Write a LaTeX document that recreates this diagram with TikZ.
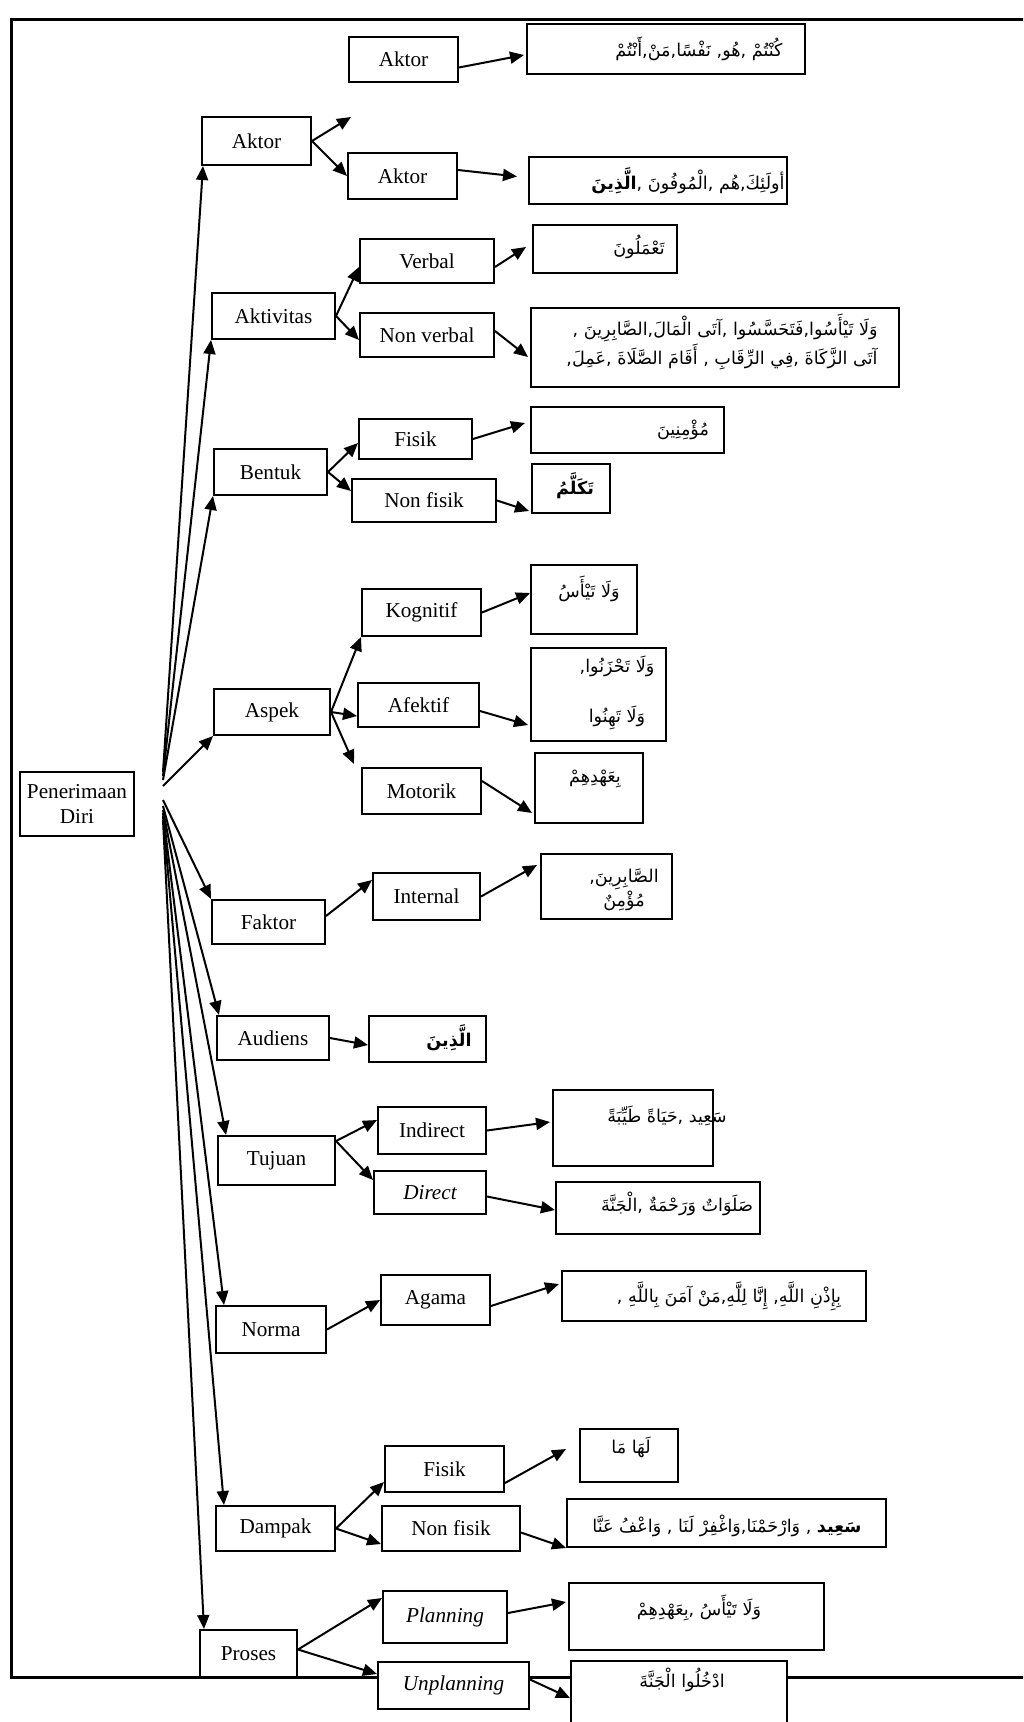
\documentclass[tikz,border=0pt]{standalone}
\usepackage{fontspec}
\setmainfont{Liberation Serif}
\newfontfamily\arabicfont[Script=Arabic]{DejaVu Sans}
\TeXXeTstate=1
\usetikzlibrary{arrows.meta}
\newcommand{\arab}[1]{{\arabicfont\beginR #1\endR}}
\tikzset{box/.style 2 args={
    draw, line width=1pt, fill=white, inner sep=0pt,
    minimum width=#1pt, minimum height=#2pt,
    font=\fontsize{10.6}{12.7}\selectfont
  },
  teks/.style={inner sep=0pt, font=\arabicfont\fontsize{8.8}{13}\selectfont},
  panah/.style={line width=1pt, -{Triangle[length=7pt,width=6pt]}}
}

\begin{document}
\begin{tikzpicture}[x=0.5pt,y=-0.5pt]
  \clip (0,0) rectangle (1023,1722);
  \draw[line width=1.5pt] (1030,20) -- (11,20) -- (11,1677) -- (1030,1677);

  \node[box={57}{32}, align=center] (root) at (77,804) {Penerimaan\\Diri};

  % tingkat pertama
  \node[box={54.5}{24}] (aktor) at (256.5,141) {Aktor};
  \node[box={61.5}{23}] (aktivitas) at (273.5,316) {Aktivitas};
  \node[box={56.5}{23}] (bentuk) at (270.5,472) {Bentuk};
  \node[box={58}{23}] (aspek) at (272,712) {Aspek};
  \node[box={56.5}{22}] (faktor) at (268.5,922) {Faktor};
  \node[box={56}{22}] (audiens) at (273,1038) {Audiens};
  \node[box={58.5}{24.5}] (tujuan) at (276.5,1160.5) {Tujuan};
  \node[box={55}{23.5}] (norma) at (271,1329.5) {Norma};
  \node[box={59.5}{22.5}] (dampak) at (275.5,1528.5) {Dampak};
  \node[box={48.5}{23.5}] (proses) at (248.5,1653.5) {Proses};

  % tingkat kedua
  \node[box={54.5}{22.5}] (aktorA) at (403.5,59.5) {Aktor};
  \node[box={54.5}{23}] (aktorB) at (402.5,176) {Aktor};
  \node[box={67}{22}] (verbal) at (427,261) {Verbal};
  \node[box={67}{22}] (nonverbal) at (427,335) {Non verbal};
  \node[box={56.5}{20}] (fisikB) at (415.5,439) {Fisik};
  \node[box={72}{21.5}] (nonfisikB) at (424,500.5) {Non fisik};
  \node[box={59.5}{23.5}] (kognitif) at (421.5,612.5) {Kognitif};
  \node[box={60.5}{22}] (afektif) at (418.5,705) {Afektif};
  \node[box={59.5}{23}] (motorik) at (421.5,791) {Motorik};
  \node[box={53.5}{23.5}] (internal) at (426.5,896.5) {Internal};
  \node[box={54}{23.5}] (indirect) at (432,1130.5) {Indirect};
  \node[box={56}{21.5}] (direct) at (430,1192.5) {\itshape Direct};
  \node[box={54.5}{25}] (agama) at (435.5,1300) {Agama};
  \node[box={59.5}{23}] (fisikD) at (444.5,1469) {Fisik};
  \node[box={69}{22.5}] (nonfisikD) at (451,1528.5) {Non fisik};
  \node[box={62}{26}] (planning) at (445,1617) {\itshape Planning};
  \node[box={75.5}{23.5}] (unplanning) at (453.5,1685.5) {\itshape Unplanning};

  % kotak ayat
  \node[box={139}{25}] (kA) at (666,49) {};
  \node[box={129}{23.5}] (kB) at (658,180.5) {};
  \node[box={72}{24}] (kVerbal) at (605,249) {};
  \node[box={184}{39.5}] (kNonverbal) at (715,347.5) {};
  \node[box={96.5}{23}] (kFisikB) at (627.5,430) {};
  \node[box={39}{24.5}] (kNonfisikB) at (571,488.5) {};
  \node[box={53}{34.5}] (kKognitif) at (584,599.5) {};
  \node[box={67.5}{46.5}] (kAfektif) at (598.5,694.5) {};
  \node[box={54}{35}] (kMotorik) at (589,788) {};
  \node[box={65.5}{32.5}] (kInternal) at (606.5,886.5) {};
  \node[box={58.5}{23}] (kAudiens) at (427.5,1039) {};
  \node[box={80}{38}] (kIndirect) at (633,1128) {};
  \node[box={102}{26}] (kDirect) at (658,1208) {};
  \node[box={152}{25}] (kAgama) at (714,1296) {};
  \node[box={49}{26.5}] (kFisikD) at (629,1455.5) {};
  \node[box={159.5}{24}] (kNonfisikD) at (726.5,1523) {};
  \node[box={127.5}{33.5}] (kPlanning) at (696.5,1616.5) {};
  \node[box={108}{37}] (kUnplanning) at (679,1698) {};

  \node[teks] (tA) at (699,49) {\arab{كُنْتُمْ ,هُو, نَفْسًا,مَنْ,أَنْتُمْ}};
  \node[teks] (tB) at (688,181) {\arab{أولَئِكَ,هُم ,الْمُوفُونَ ,{\bfseries الَّذِينَ}}};
  \node[teks] (tVerbal) at (639,247) {\arab{تَعْمَلُونَ}};
  \node[teks, align=right, anchor=east] (tNonverbal) at (878,342)
    {\arab{وَلَا تَيْأَسُوا,فَتَحَسَّسُوا ,آتَى الْمَالَ,الصَّابِرِينَ ,}\\
     \arab{آتَى الزَّكَاةَ ,فِي الرِّقَابِ , أَقَامَ الصَّلَاةَ ,عَمِلَ,}};
  \node[teks] (tFisikB) at (683,430) {\arab{مُؤْمِنِينَ}};
  \node[teks, font=\arabicfont\bfseries\fontsize{8.8}{13}\selectfont] (tNonfisikB) at (575,486) {\arab{تَكَلَّمُ}};
  \node[teks] (tKognitif) at (589,589) {\arab{وَلَا تَيْأَسُ}};
  \node[teks, align=center] (tAfektif) at (617,693)
    {\arab{وَلَا تَحْزَنُوا,}\\[12pt]\arab{وَلَا تَهِنُوا}};
  \node[teks] (tMotorik) at (595,779) {\arab{بِعَهْدِهِمْ}};
  \node[teks, align=center, font=\arabicfont\fontsize{8.8}{12}\selectfont] (tInternal) at (624,890)
    {\arab{الصَّابِرِينَ,}\\\arab{مُؤْمِنٌ}};
  \node[teks, font=\arabicfont\bfseries\fontsize{8.8}{13}\selectfont] (tAudiens) at (449,1038) {\arab{الَّذِينَ}};
  \node[teks] (tIndirect) at (667,1116) {\arab{سَعِيد ,حَيَاةً طَيِّبَةً}};
  \node[teks] (tDirect) at (677,1204) {\arab{صَلَوَاتٌ وَرَحْمَةٌ ,الْجَنَّةَ}};
  \node[teks] (tAgama) at (729,1296) {\arab{بِإِذْنِ اللَّهِ, إِنَّا لِلَّهِ,مَنْ آمَنَ بِاللَّهِ ,}};
  \node[teks] (tFisikD) at (631,1447) {\arab{لَهَا مَا}};
  \node[teks] (tNonfisikD) at (727,1526) {\arab{{\bfseries سَعِيد} , وَارْحَمْنَا,وَاغْفِرْ لَنَا , وَاعْفُ عَنَّا}};
  \node[teks] (tPlanning) at (699,1608) {\arab{وَلَا تَيْأَسُ ,بِعَهْدِهِمْ}};
  \node[teks] (tUnplanning) at (682,1680) {\arab{ادْخُلُوا الْجَنَّةَ}};

  % dari akar
  \draw[panah] ([xshift=14pt,yshift=16pt]root.east) -- ([xshift=1pt]aktor.south west);
  \draw[panah] ([xshift=14pt,yshift=14pt]root.east) -- (aktivitas.south west);
  \draw[panah] ([xshift=14pt,yshift=12pt]root.east) -- (bentuk.south west);
  \draw[panah] ([xshift=14pt,yshift=9pt]root.east) -- (aspek.south west);
  \draw[panah] ([xshift=14pt,yshift=2pt]root.east) -- (faktor.north west);
  \draw[panah] ([xshift=14pt,yshift=-1pt]root.east) -- ([xshift=1.5pt]audiens.north west);
  \draw[panah] ([xshift=14pt,yshift=-3pt]root.east) -- ([xshift=4.5pt]tujuan.north west);
  \draw[panah] ([xshift=14pt,yshift=-4.5pt]root.east) -- ([xshift=4.5pt]norma.north west);
  \draw[panah] ([xshift=14pt,yshift=-6pt]root.east) -- ([xshift=4.5pt]dampak.north west);
  \draw[panah] ([xshift=14pt,yshift=-8pt]root.east) -- ([xshift=2.5pt]proses.north west);

  % ke tingkat kedua
  \coordinate (aktorUp) at (351,117);
  \draw[panah] (aktor.east) -- (aktorUp);
  \draw[panah] (aktor.east) -- (aktorB.west);
  \draw[panah] (aktivitas.east) -- ([yshift=-3pt]verbal.west);
  \draw[panah] (aktivitas.east) -- ([yshift=-2.5pt]nonverbal.west);
  \draw[panah] (bentuk.east) -- ([yshift=-2pt]fisikB.west);
  \draw[panah] (bentuk.east) -- ([yshift=4.75pt]nonfisikB.west);
  \draw[panah] (aspek.east) -- (kognitif.south west);
  \draw[panah] (aspek.east) -- ([yshift=-5.5pt]afektif.west);
  \draw[panah] (aspek.east) -- ([xshift=-3.5pt,yshift=1.5pt]motorik.north west);
  \draw[panah] ([yshift=3pt]faktor.east) -- ([yshift=8.25pt]internal.west);
  \draw[panah] ([yshift=9.75pt]tujuan.east) -- ([yshift=5.25pt]indirect.west);
  \draw[panah] ([yshift=9.75pt]tujuan.east) -- ([yshift=6.25pt]direct.west);
  \draw[panah] (norma.east) -- (agama.west);
  \draw[panah] (dampak.east) -- ([yshift=5.5pt]fisikD.south west);
  \draw[panah] (dampak.east) -- ([yshift=-7.75pt]nonfisikD.west);
  \draw[panah] ([yshift=2pt]proses.east) -- ([yshift=-4pt]planning.north west);
  \draw[panah] ([yshift=2pt]proses.east) -- ([yshift=5.75pt]unplanning.west);

  % ke kotak ayat
  \draw[panah] ([yshift=-4pt]aktorA.east) -- ([xshift=-1pt,yshift=-3pt]kA.west);
  \draw[panah] ([yshift=3pt]aktorB.east) -- ([xshift=-5.5pt,yshift=2pt]kB.west);
  \draw[panah] ([yshift=-3pt]verbal.east) -- ([xshift=-3pt,yshift=1pt]kVerbal.west);
  \draw[panah] ([yshift=2pt]nonverbal.east) -- ([xshift=-1pt,yshift=-4.75pt]kNonverbal.west);
  \draw[panah] (fisikB.east) -- ([xshift=-2.5pt,yshift=3.5pt]kFisikB.west);
  \draw[panah] (nonfisikB.east) -- ([xshift=-1pt,yshift=1.5pt]kNonfisikB.south west);
  \draw[panah] (kognitif.east) -- ([yshift=3.25pt]kKognitif.west);
  \draw[panah] ([yshift=-3pt]afektif.east) -- ([xshift=-1pt,yshift=8.5pt]kAfektif.south west);
  \draw[panah] ([yshift=5pt]motorik.east) -- ([xshift=-1pt,yshift=5.5pt]kMotorik.south west);
  \draw[panah] (internal.east) -- ([xshift=-1.5pt,yshift=10.75pt]kInternal.west);
  \draw[panah] (audiens.east) -- ([yshift=-3pt]kAudiens.west);
  \draw[panah] (indirect.east) -- ([xshift=-1pt,yshift=3pt]kIndirect.west);
  \draw[panah] ([yshift=-2pt]direct.east) -- ([yshift=-1pt]kDirect.west);
  \draw[panah] ([yshift=-3pt]agama.east) -- ([xshift=-1pt,yshift=6pt]kAgama.west);
  \draw[panah] ([yshift=5pt]fisikD.south east) -- ([xshift=-6.5pt,yshift=3.25pt]kFisikD.west);
  \draw[panah] ([yshift=-2pt]nonfisikD.east) -- (kNonfisikD.south west);
  \draw[panah] ([yshift=2pt]planning.east) -- ([xshift=-1pt,yshift=7.25pt]kPlanning.west);
  \draw[panah] ([yshift=3pt]unplanning.east) -- (kUnplanning.west);
\end{tikzpicture}
\end{document}
